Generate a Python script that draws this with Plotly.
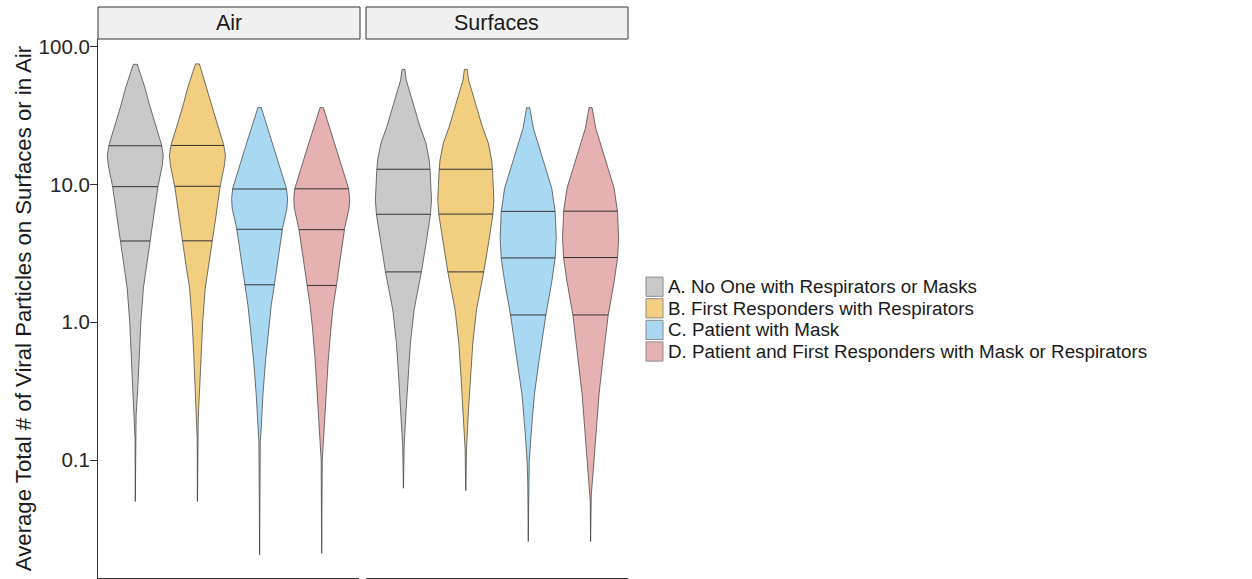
import numpy as np
import plotly.graph_objects as go

# ---------------- data ----------------
facets = ["Air", "Surfaces"]
groups = [
    "A. No One with Respirators or Masks",
    "B. First Responders with Respirators",
    "C. Patient with Mask",
    "D. Patient and First Responders with Mask or Respirators",
]
colors = ["#C9C9C9", "#F2CF80", "#A9D9F2", "#E5B1B2"]

# density profiles: levels (viral particles, top -> bottom) and relative density (0..1)
air_a_levels = [74.5, 50.1, 37.7, 27.1, 19.4, 16.4, 13.9, 9.64, 6.0, 3.85, 2.6, 1.77, 1.01, 0.58, 0.333, 0.212, 0.14, 0.05]
air_a_dens = [0.07, 0.35, 0.51, 0.72, 0.94, 1.0, 0.97, 0.81, 0.67, 0.53, 0.41, 0.29, 0.20, 0.14, 0.09, 0.03, 0.007, 0.002]
air_b_levels = [75.0, 50.1, 37.7, 27.1, 19.4, 16.4, 13.9, 9.64, 6.0, 3.85, 2.6, 1.77, 1.01, 0.58, 0.333, 0.205, 0.14, 0.05]
air_b_dens = [0.07, 0.35, 0.51, 0.72, 0.94, 1.0, 0.97, 0.81, 0.67, 0.53, 0.41, 0.28, 0.19, 0.13, 0.08, 0.03, 0.007, 0.002]
air_c_levels = [36.1, 25.6, 18.3, 13.1, 9.38, 7.94, 6.72, 4.81, 3.03, 1.87, 1.34, 0.905, 0.518, 0.297, 0.171, 0.136, 0.0558, 0.0205]
air_c_dens = [0.06, 0.28, 0.52, 0.74, 0.96, 1.0, 0.98, 0.82, 0.67, 0.53, 0.42, 0.33, 0.21, 0.12, 0.06, 0.025, 0.01, 0.002]
air_d_levels = [36.1, 25.6, 18.3, 13.1, 9.38, 7.94, 6.72, 4.81, 3.03, 1.87, 1.34, 0.905, 0.518, 0.297, 0.171, 0.10, 0.021]
air_d_dens = [0.06, 0.28, 0.52, 0.74, 0.96, 1.0, 0.98, 0.82, 0.67, 0.53, 0.42, 0.33, 0.23, 0.16, 0.09, 0.02, 0.002]
surf_a_levels = [68.5, 57.3, 45.9, 34.7, 26.3, 20.0, 15.0, 12.7, 9.9, 7.7, 6.0, 3.76, 2.32, 1.23, 0.708, 0.401, 0.231, 0.125, 0.0624]
surf_a_dens = [0.05, 0.10, 0.24, 0.41, 0.59, 0.80, 0.92, 0.95, 0.98, 1.0, 0.96, 0.81, 0.64, 0.38, 0.25, 0.17, 0.095, 0.025, 0.002]
surf_b_levels = [68.5, 57.3, 45.9, 34.7, 26.3, 20.0, 15.0, 12.7, 9.9, 7.7, 6.0, 3.76, 2.32, 1.23, 0.708, 0.401, 0.231, 0.12, 0.06]
surf_b_dens = [0.05, 0.10, 0.24, 0.41, 0.59, 0.80, 0.92, 0.95, 0.98, 1.0, 0.96, 0.81, 0.64, 0.38, 0.25, 0.17, 0.095, 0.025, 0.002]
surf_c_levels = [36.1, 25.6, 19.4, 14.6, 9.38, 6.36, 4.07, 2.91, 1.97, 1.13, 0.518, 0.297, 0.170, 0.0973, 0.0682, 0.0256]
surf_c_dens = [0.055, 0.185, 0.37, 0.56, 0.84, 0.96, 1.0, 0.96, 0.84, 0.63, 0.38, 0.22, 0.12, 0.037, 0.015, 0.002]
surf_d_levels = [36.1, 25.6, 19.4, 14.6, 9.38, 6.36, 4.07, 2.91, 1.97, 1.13, 0.518, 0.297, 0.170, 0.0973, 0.0558, 0.05, 0.0256]
surf_d_dens = [0.055, 0.185, 0.37, 0.56, 0.84, 0.96, 1.0, 0.96, 0.84, 0.63, 0.43, 0.30, 0.21, 0.12, 0.025, 0.01, 0.002]

# quartiles (25 %, 50 %, 75 %)
air_quartiles = [[3.89, 9.64, 19.1], [3.9, 9.7, 19.2], [1.87, 4.73, 9.27], [1.85, 4.7, 9.3]]
surf_quartiles = [[2.32, 6.08, 12.9], [2.32, 6.1, 12.9], [1.13, 2.93, 6.38], [1.13, 2.95, 6.4]]

tick_vals = [0.1, 1, 10, 100]
tick_text = ["0.1", "1.0", "10.0", "100.0"]
y_title = "Average Total # of Viral Particles on Surfaces or in Air"

profiles = {
    "Air": [(air_a_levels, air_a_dens), (air_b_levels, air_b_dens),
            (air_c_levels, air_c_dens), (air_d_levels, air_d_dens)],
    "Surfaces": [(surf_a_levels, surf_a_dens), (surf_b_levels, surf_b_dens),
                 (surf_c_levels, surf_c_dens), (surf_d_levels, surf_d_dens)],
}
quartiles = {"Air": air_quartiles, "Surfaces": surf_quartiles}

# ---------------- figure ----------------
FONT = "Liberation Sans, Arial, sans-serif"
HALF = 0.45  # half of ggplot's default violin width 0.9
fig = go.Figure()

for fi, facet in enumerate(facets):
    xa = "x" if fi == 0 else "x2"
    for gi, (levels, dens) in enumerate(profiles[facet]):
        center = gi + 1
        lv = np.array(levels[::-1], dtype=float)   # bottom -> top
        dn = np.array(dens[::-1], dtype=float)
        xs = list(center + HALF * dn) + list((center - HALF * dn)[::-1]) + [center + HALF * dn[0]]
        ys = list(lv) + list(lv[::-1]) + [lv[0]]
        fig.add_trace(go.Scatter(
            x=xs, y=ys, xaxis=xa, yaxis="y", mode="lines", fill="toself",
            fillcolor=colors[gi], line=dict(color="#363636", width=0.7),
            showlegend=False, hoverinfo="skip", name=groups[gi]))
        # quartile lines
        qx, qy = [], []
        for q in quartiles[facet][gi]:
            w = HALF * np.interp(np.log10(q), np.log10(lv), dn)
            qx += [center - w, center + w, None]
            qy += [q, q, None]
        fig.add_trace(go.Scatter(
            x=qx, y=qy, xaxis=xa, yaxis="y", mode="lines",
            line=dict(color="#333333", width=1), showlegend=False,
            hoverinfo="skip"))

W, H = 1252, 579
L, R, T, B = 98, 624, 39, 1
pw = W - L - R
ph = H - T - B

def px_x(p):
    return (p - L) / pw

def px_y(p):
    return 1 - (p - T) / ph

xaxis_common = dict(range=[0.4, 4.6], showticklabels=False, ticks="", showgrid=False,
                    zeroline=False, showline=True, linecolor="#333333", linewidth=1,
                    fixedrange=True)

fig.update_layout(
    width=W, height=H,
    margin=dict(l=L, r=R, t=T, b=B, autoexpand=False),
    paper_bgcolor="white", plot_bgcolor="white",
    font=dict(family=FONT, color="#1a1a1a"),
    showlegend=False,
    xaxis=dict(domain=[0, px_x(359)], anchor="y", **xaxis_common),
    xaxis2=dict(domain=[px_x(366), 1], anchor="y", **xaxis_common),
    yaxis=dict(type="log", range=[-1.8563, 2.0559], anchor="x",
               tickvals=tick_vals, ticktext=tick_text, ticks="outside", ticklen=7,
               tickcolor="#333333", tickwidth=1, showgrid=False, zeroline=False,
               showline=True, linecolor="#333333", linewidth=1, ticklabelstandoff=-4,
               tickfont=dict(size=20.5, color="#262626", family=FONT),
               title=dict(text=y_title, font=dict(size=22.2, color="#1a1a1a", family=FONT),
                          standoff=0)),
)

# facet strips
strip_top = 1 + (T - 7) / ph
for fi, facet in enumerate(facets):
    x0 = 0 if fi == 0 else px_x(366)
    x1 = px_x(360) if fi == 0 else px_x(628)
    fig.add_shape(type="rect", xref="paper", yref="paper", x0=x0, x1=x1, y0=1, y1=strip_top,
                  fillcolor="#F0F0F0", line=dict(color="#333333", width=1), layer="above")
    fig.add_annotation(xref="paper", yref="paper", x=(x0 + x1) / 2, y=(1 + strip_top) / 2,
                       text=facet, showarrow=False, xanchor="center", yanchor="middle",
                       font=dict(size=21.5, color="#1a1a1a", family=FONT))

# legend (ggplot-style keys)
row0, row_gap = 286.7, 21.6
for gi, g in enumerate(groups):
    yc = row0 + gi * row_gap
    fig.add_shape(type="rect", xref="paper", yref="paper",
                  x0=px_x(646), x1=px_x(663), y0=px_y(yc + 9.6), y1=px_y(yc - 9.6),
                  fillcolor=colors[gi], line=dict(color="#8a8a8a", width=1))
    fig.add_annotation(xref="paper", yref="paper", x=px_x(666), y=px_y(yc), text=g,
                       showarrow=False, xanchor="left", yanchor="middle",
                       font=dict(size=18.8, color="#1a1a1a", family=FONT))

fig.write_html("out.html", config={"displayModeBar": False},
               post_script="document.body.style.margin='0';")
